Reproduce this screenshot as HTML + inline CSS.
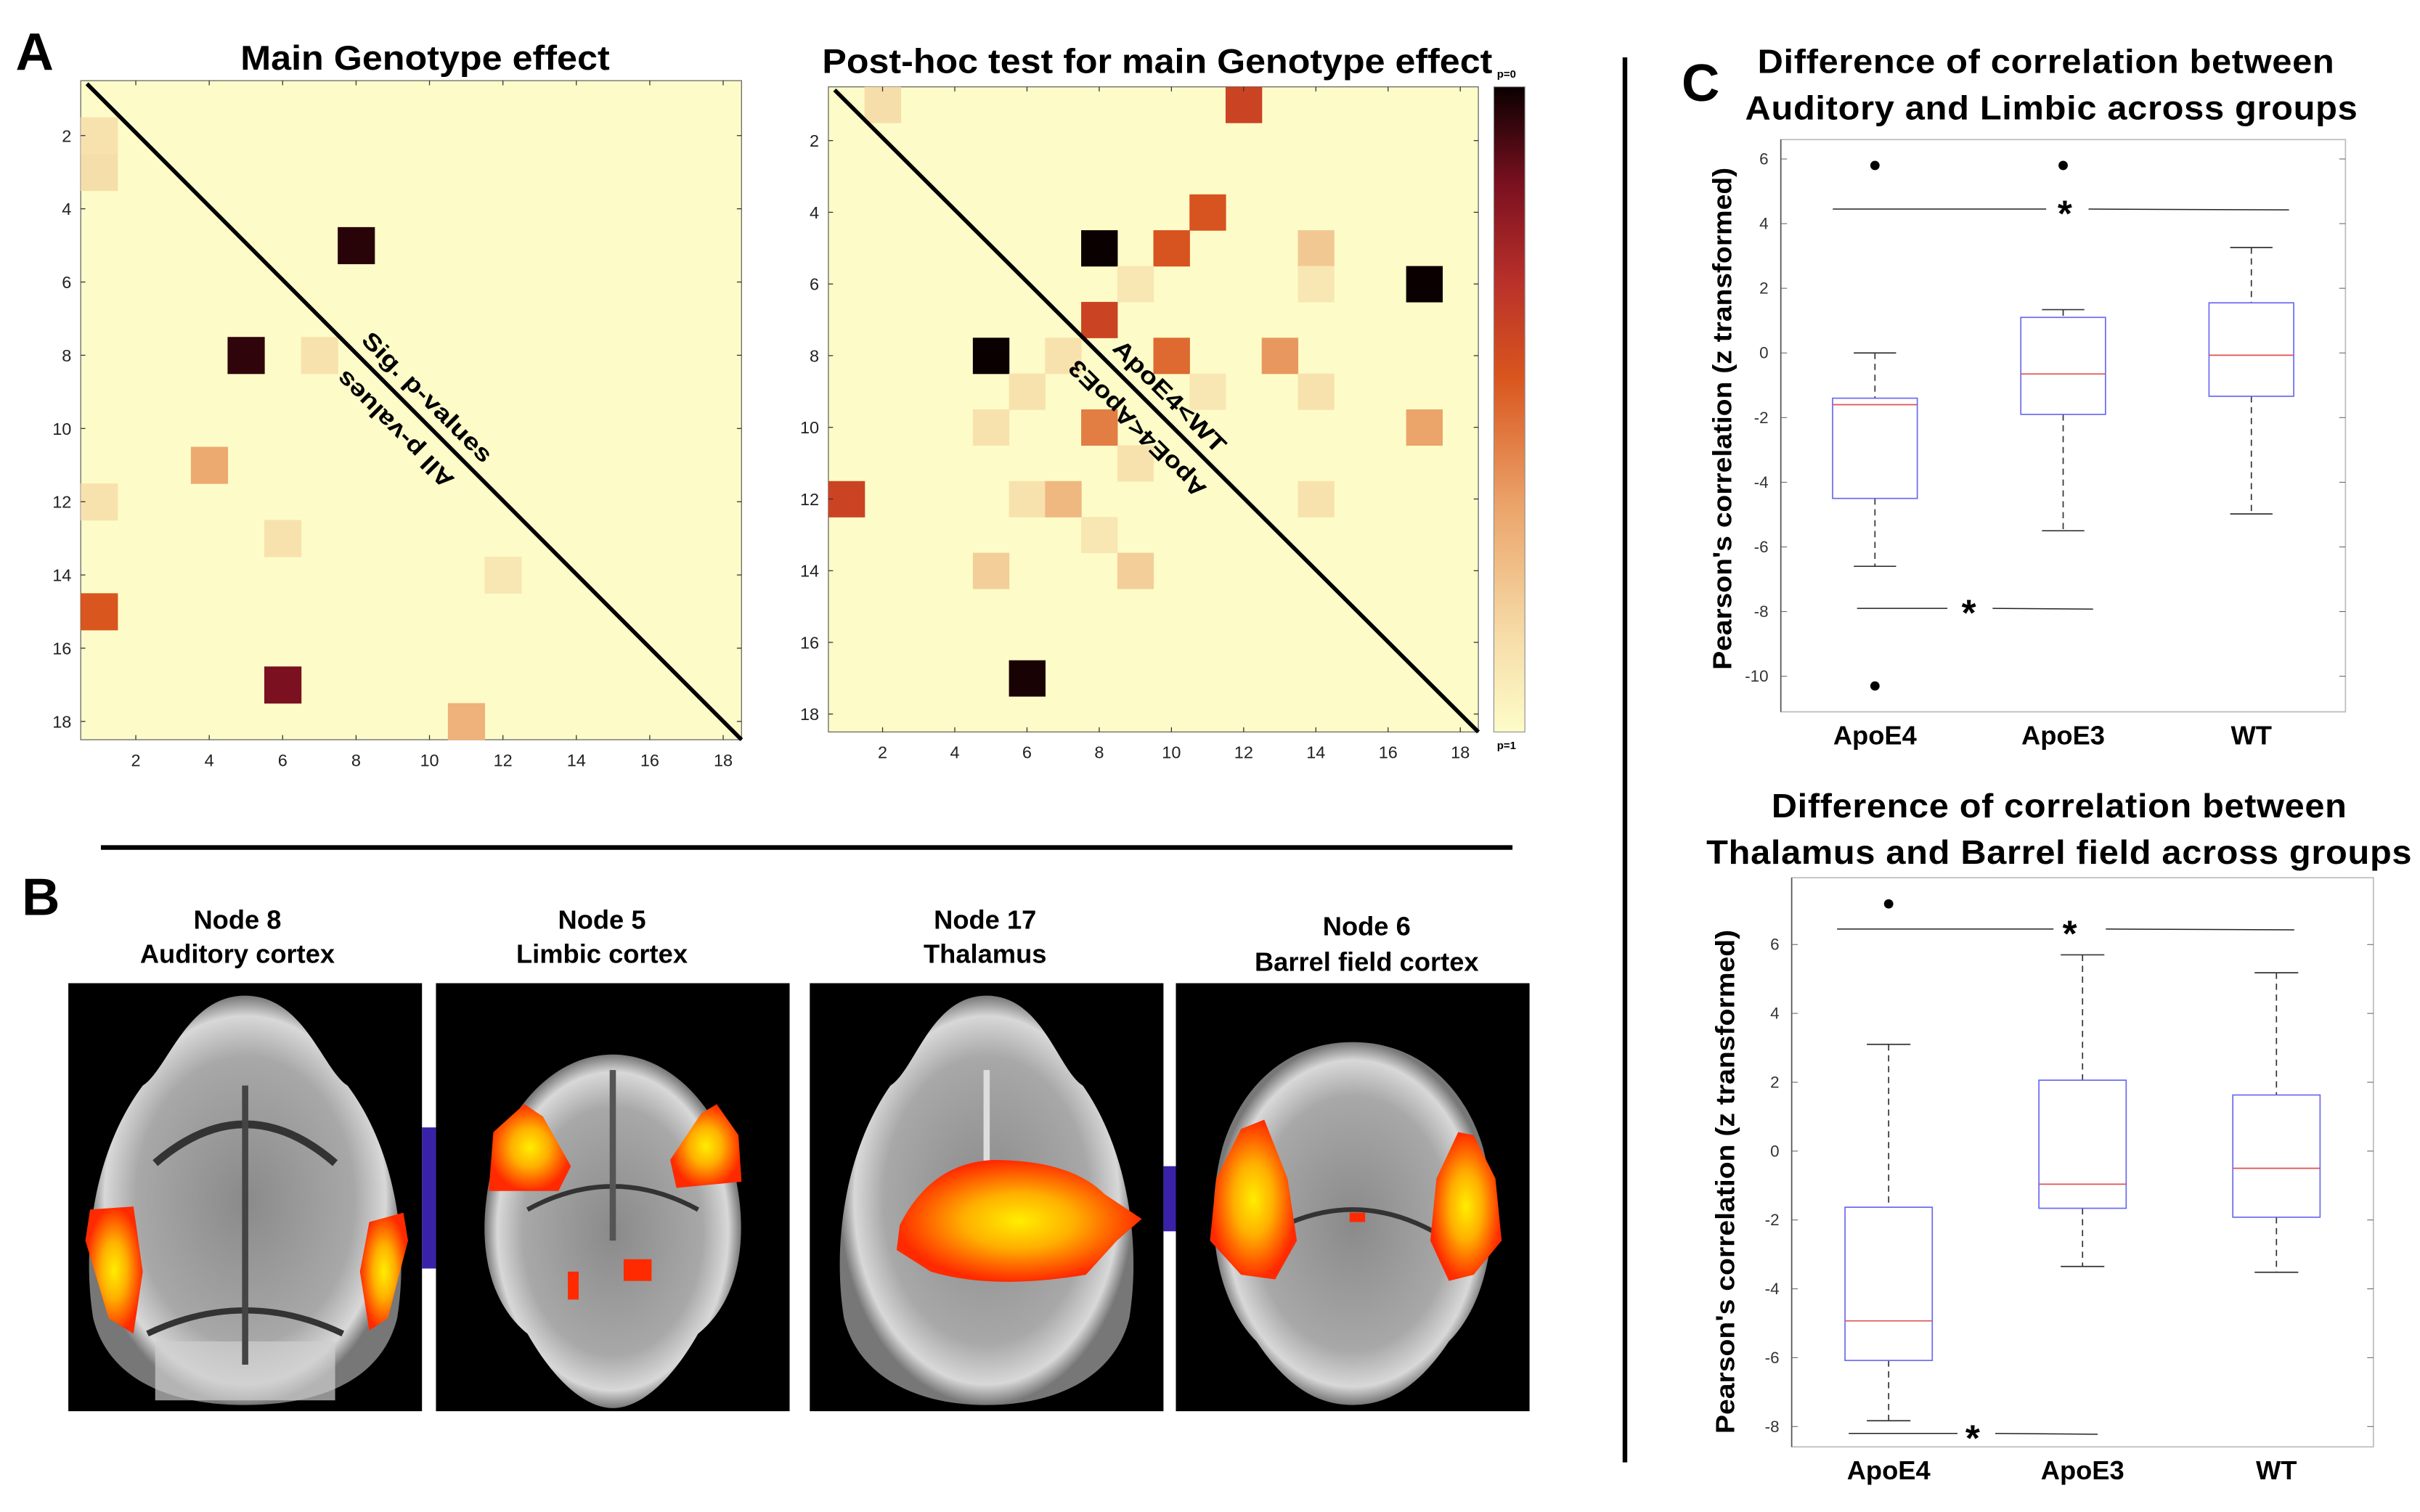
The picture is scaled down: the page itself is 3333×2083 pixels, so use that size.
<!DOCTYPE html>
<html><head><meta charset="utf-8">
<style>
html,body{margin:0;padding:0;background:#fff;}
svg{display:block;}
text{font-family:"Liberation Sans",sans-serif;}
</style></head>
<body>
<svg id="fig" width="3333" height="2083" viewBox="0 0 1560 975" xmlns="http://www.w3.org/2000/svg">
<defs>
  <linearGradient id="cbar" x1="0" y1="1" x2="0" y2="0">
    <stop offset="0" stop-color="#fdfcc8"/>
    <stop offset="0.15" stop-color="#f6dca8"/>
    <stop offset="0.35" stop-color="#eba46a"/>
    <stop offset="0.55" stop-color="#d9561e"/>
    <stop offset="0.7" stop-color="#b8302a"/>
    <stop offset="0.85" stop-color="#7a1020"/>
    <stop offset="1" stop-color="#0a0000"/>
  </linearGradient>
  <radialGradient id="fire" cx="0.5" cy="0.5" r="0.5">
    <stop offset="0" stop-color="#ffee00"/>
    <stop offset="0.45" stop-color="#ffb000"/>
    <stop offset="0.8" stop-color="#ff5a00"/>
    <stop offset="1" stop-color="#ff2a00"/>
  </radialGradient>
  <radialGradient id="greyb" cx="0.5" cy="0.5" r="0.5">
    <stop offset="0" stop-color="#8a8a8a"/>
    <stop offset="0.7" stop-color="#a8a8a8"/>
    <stop offset="0.9" stop-color="#d8d8d8"/>
    <stop offset="1" stop-color="#777"/>
  </radialGradient>
</defs>

<text x="10" y="45" font-size="34" font-weight="bold">A</text>
<text x="14" y="590" font-size="34" font-weight="bold">B</text>
<text x="1084" y="65" font-size="34" font-weight="bold">C</text>

<text x="155" y="45" font-size="22" font-weight="bold" textLength="238" lengthAdjust="spacingAndGlyphs">Main Genotype effect</text>
<text x="530" y="47" font-size="22" font-weight="bold" textLength="432" lengthAdjust="spacingAndGlyphs">Post-hoc test for main Genotype effect</text>

<g id="hmLeft"></g>
<g id="hmRight"></g>

<rect x="963" y="56" width="20" height="416" fill="url(#cbar)" stroke="#888" stroke-width="0.5"/>
<text x="965" y="50" font-size="7" font-weight="bold">p=0</text>
<text x="965" y="483" font-size="7" font-weight="bold">p=1</text>

<rect x="65" y="545" width="910" height="3" fill="#000"/>
<rect x="1046" y="37" width="3" height="906" fill="#000"/>

<g font-size="17" font-weight="bold" text-anchor="middle">
<text x="153" y="599">Node 8</text>
<text x="153" y="621">Auditory cortex</text>
<text x="388" y="599">Node 5</text>
<text x="388" y="621">Limbic cortex</text>
<text x="635" y="599">Node 17</text>
<text x="635" y="621">Thalamus</text>
<text x="881" y="603">Node 6</text>
<text x="881" y="626">Barrel field cortex</text>
</g>
<rect x="272" y="727" width="9" height="91" fill="#3a22a8"/>
<rect x="750" y="752" width="8" height="42" fill="#3a22a8"/>

<g>
  <rect x="44" y="634" width="228" height="276" fill="#000"/>
  <path d="M158,642 C120,642 108,690 92,700 C62,740 52,800 60,850 C70,890 110,906 158,906 C206,906 246,890 256,850 C264,800 254,740 224,700 C208,690 196,642 158,642Z" fill="url(#greyb)"/>
  <path d="M100,750 Q158,700 216,750" stroke="#333" stroke-width="5" fill="none"/>
  <path d="M95,860 Q158,830 221,860" stroke="#333" stroke-width="4" fill="none"/>
  <rect x="100" y="865" width="116" height="38" fill="#cfcfcf" opacity="0.7"/>
  <rect x="156" y="700" width="4" height="180" fill="#444"/>
  <path d="M86,860 L70,850 L55,800 L58,780 L86,778 L92,820Z" fill="url(#fire)"/>
  <path d="M238,858 L250,850 L263,800 L260,782 L238,788 L232,820Z" fill="url(#fire)"/>
</g>
<g>
  <rect x="281" y="634" width="228" height="276" fill="#000"/>
  <path d="M395,680 C360,680 330,710 318,750 C305,800 315,840 340,860 C360,895 380,908 395,908 C410,908 430,895 450,860 C475,840 485,800 472,750 C460,710 430,680 395,680Z" fill="url(#greyb)"/>
  <path d="M340,780 Q395,750 450,780" stroke="#333" stroke-width="3" fill="none"/>
  <rect x="393" y="690" width="4" height="110" fill="#555"/>
  <path d="M315,768 L318,730 L338,712 L350,720 L368,752 L360,768Z" fill="url(#fire)"/>
  <path d="M478,762 L476,732 L462,712 L452,718 L432,748 L436,766Z" fill="url(#fire)"/>
  <rect x="402" y="812" width="18" height="14" fill="#ff2a00"/>
  <rect x="366" y="820" width="7" height="18" fill="#ff2a00"/>
</g>
<g>
  <rect x="522" y="634" width="228" height="276" fill="#000"/>
  <path d="M636,642 C600,642 590,690 574,700 C546,740 536,800 544,850 C554,890 594,906 636,906 C678,906 718,890 728,850 C736,800 726,740 698,700 C682,690 672,642 636,642Z" fill="url(#greyb)"/>
  <rect x="634" y="690" width="4" height="80" fill="#ddd"/>
  <path d="M580,790 Q600,750 640,748 Q690,748 712,770 L736,786 L720,800 L700,822 Q640,832 600,820 L578,806Z" fill="url(#fire)"/>
</g>
<g>
  <rect x="758" y="634" width="228" height="276" fill="#000"/>
  <path d="M872,672 C830,672 800,700 788,740 C775,790 785,840 810,865 C830,895 850,906 872,906 C894,906 914,895 934,865 C959,840 969,790 956,740 C944,700 914,672 872,672Z" fill="url(#greyb)"/>
  <path d="M810,800 Q872,760 934,800" stroke="#333" stroke-width="3" fill="none"/>
  <path d="M780,800 L784,760 L800,728 L815,722 L830,760 L836,800 L822,825 L800,822Z" fill="url(#fire)"/>
  <path d="M968,800 L964,760 L950,732 L940,730 L926,760 L922,800 L934,826 L950,822Z" fill="url(#fire)"/>
  <rect x="870" y="782" width="10" height="6" fill="#ff2a00"/>
</g>

<g font-size="21.5" font-weight="bold" letter-spacing="0.3">
<text x="1133" y="47" textLength="372" lengthAdjust="spacingAndGlyphs">Difference of correlation between</text>
<text x="1125" y="77" textLength="395" lengthAdjust="spacingAndGlyphs">Auditory and Limbic across groups</text>
<text x="1142" y="527" textLength="371" lengthAdjust="spacingAndGlyphs">Difference of correlation between</text>
<text x="1100" y="557" textLength="455" lengthAdjust="spacingAndGlyphs">Thalamus and Barrel field across groups</text>
</g>
<g id="bpTop"></g>
<g id="bpBot"></g>
</svg>

<script>
const hmTicks = [2,4,6,8,10,12,14,16,18];
const leftRows = [2,3,5,8,8,11,12,13,14,15,17,18];
const leftCols = [1,1,8,5,7,4,1,6,12,1,6,11];
const leftVals = [0.12,0.14,0.96,0.95,0.12,0.33,0.12,0.12,0.1,0.55,0.85,0.3];
const rightRows = [1,1,4,5,5,5,6,6,6,7,8,8,8,8,9,9,9,10,10,10,11,12,12,12,12,13,14,14,17];
const rightCols = [2,12,11,8,10,14,9,14,17,8,5,7,10,13,6,11,14,5,8,17,9,1,6,7,14,8,5,9,6];
const rightVals = [0.14,0.62,0.56,1,0.56,0.22,0.1,0.1,1,0.62,1,0.12,0.5,0.38,0.12,0.1,0.12,0.12,0.45,0.35,0.12,0.62,0.12,0.28,0.12,0.1,0.2,0.2,0.98];

const NS="http://www.w3.org/2000/svg";
function mk(tag, attrs, parent){const e=document.createElementNS(NS,tag);for(const k in attrs)e.setAttribute(k,attrs[k]);parent.appendChild(e);return e;}

const cmapStops=[[0,[253,252,200]],[0.15,[246,220,168]],[0.35,[235,164,106]],[0.55,[217,86,30]],[0.7,[184,48,42]],[0.85,[122,16,32]],[1,[10,0,0]]];
function cmap(v){for(let i=1;i<cmapStops.length;i++){if(v<=cmapStops[i][0]){const a=cmapStops[i-1],b=cmapStops[i];const t=(v-a[0])/(b[0]-a[0]);const c=a[1].map((x,j)=>Math.round(x+(b[1][j]-x)*t));return `rgb(${c[0]},${c[1]},${c[2]})`;}}return 'rgb(10,0,0)';}

function heatmap(gid, x0,y0,x1,y1, rows, cols, vals, labA, labB, lenA, lenB){
  const g=document.getElementById(gid);
  const cw=(x1-x0)/18, ch=(y1-y0)/18;
  const xs=c=>x0+(c-1)*cw, ys=r=>y0+(r-1)*ch;
  const bg=mk('rect',{x:x0,y:y0,width:x1-x0,height:y1-y0,fill:'#fdfcc8',stroke:'#666','stroke-width':0.6},g);
  
  
  for(let i=0;i<rows.length;i++){
    const r=mk('rect',{x:xs(cols[i]),y:ys(rows[i]),width:cw+0.3,height:ch+0.3,fill:cmap(vals[i])},g);
    
    
  }
  hmTicks.forEach(t=>{
    const cx=xs(t)+cw/2, cy=ys(t)+ch/2;
    mk('line',{x1:x0,y1:cy,x2:x0+3,y2:cy,stroke:'#333','stroke-width':0.6},g);
    mk('line',{x1:x1,y1:cy,x2:x1-3,y2:cy,stroke:'#333','stroke-width':0.6},g);
    mk('line',{x1:cx,y1:y1,x2:cx,y2:y1-3,stroke:'#333','stroke-width':0.6},g);
    mk('line',{x1:cx,y1:y0,x2:cx,y2:y0+3,stroke:'#333','stroke-width':0.6},g);
    const ty=mk('text',{x:x0-6,y:cy+4,'font-size':11,'text-anchor':'end',fill:'#222'},g);ty.textContent=t;
    
    
    const tx=mk('text',{x:cx,y:y1+17,'font-size':11,'text-anchor':'middle',fill:'#222'},g);tx.textContent=t;
    
    
  });
  const d=mk('line',{x1:x0+4,y1:y0+2,x2:x1,y2:y1,stroke:'#000','stroke-width':2.6},g);
  
  
  const mx=(x0+x1)/2+4, my=(y0+y1)/2-2;
  const ta=mk('text',{x:0,y:-4,'font-size':15,'font-weight':'bold','text-anchor':'middle',textLength:lenA,lengthAdjust:'spacingAndGlyphs',transform:`translate(${mx},${my}) rotate(45)`},g);ta.textContent=labA;
  
  
  const tb=mk('text',{x:0,y:-4,'font-size':15,'font-weight':'bold','text-anchor':'middle',textLength:lenB,lengthAdjust:'spacingAndGlyphs',transform:`translate(${mx-8},${my+8}) rotate(225)`},g);tb.textContent=labB;
  
  
}
heatmap('hmLeft',52,52,478,477,leftRows,leftCols,leftVals,'Sig. p-values','All p-values',112,100);
heatmap('hmRight',534,56,953,472,rightRows,rightCols,rightVals,'ApoE4<WT','ApoE4<ApoE3',96,118);

const groups = ['ApoE4','ApoE3','WT'];
const topLow   = [-6.6,-5.5,-4.98];
const topQ1    = [-4.5,-1.9,-1.34];
const topMed   = [-1.6,-0.65,-0.07];
const topQ3    = [-1.4,1.1,1.55];
const topHigh  = [0,1.34,3.26];
const topOutG  = [0,0,1];
const topOutV  = [5.8,-10.3,5.8];
const topTicks = [6,4,2,0,-2,-4,-6,-8,-10];
const botLow   = [-7.83,-3.35,-3.52];
const botQ1    = [-6.08,-1.66,-1.92];
const botMed   = [-4.93,-0.96,-0.5];
const botQ3    = [-1.63,2.06,1.63];
const botHigh  = [3.1,5.7,5.18];
const botOutG  = [0];
const botOutV  = [7.18];
const botTicks = [6,4,2,0,-2,-4,-6,-8];

function boxplot(gid, ax, ylim, low,q1,med,q3,high,outG,outV,ticks, sig, ylab){
  const g=document.getElementById(gid);
  const xs=v=>ax.x0+(v-0.5)/3*(ax.x1-ax.x0);
  const ys=v=>ax.y1-(v-ylim[0])/(ylim[1]-ylim[0])*(ax.y1-ax.y0);
  const fr=mk('rect',{x:ax.x0,y:ax.y0,width:ax.x1-ax.x0,height:ax.y1-ax.y0,fill:'#fff',stroke:'#bbb','stroke-width':0.8},g);
  
  
  mk('line',{x1:ax.x0,y1:ax.y0,x2:ax.x0,y2:ax.y1,stroke:'#555','stroke-width':0.8},g);
  ticks.forEach(t=>{
    const y=ys(t);
    mk('line',{x1:ax.x0,y1:y,x2:ax.x0+4,y2:y,stroke:'#666','stroke-width':0.5},g);
    mk('line',{x1:ax.x1,y1:y,x2:ax.x1-4,y2:y,stroke:'#666','stroke-width':0.5},g);
    const tl=mk('text',{x:ax.x0-8,y:y+3.5,'font-size':10.5,'text-anchor':'end',fill:'#333'},g);tl.textContent=t;
    
    
  });
  const bw=0.45/3*(ax.x1-ax.x0);
  groups.forEach((name,i)=>{
    const cx=xs(i+1);
    mk('line',{x1:cx,y1:ys(high[i]),x2:cx,y2:ys(q3[i]),stroke:'#333','stroke-width':0.8,'stroke-dasharray':'4,3'},g);
    mk('line',{x1:cx,y1:ys(q1[i]),x2:cx,y2:ys(low[i]),stroke:'#333','stroke-width':0.8,'stroke-dasharray':'4,3'},g);
    mk('line',{x1:cx-bw/4,y1:ys(high[i]),x2:cx+bw/4,y2:ys(high[i]),stroke:'#333','stroke-width':0.8},g);
    mk('line',{x1:cx-bw/4,y1:ys(low[i]),x2:cx+bw/4,y2:ys(low[i]),stroke:'#333','stroke-width':0.8},g);
    const b=mk('rect',{x:cx-bw/2,y:ys(q3[i]),width:bw,height:ys(q1[i])-ys(q3[i]),fill:'none',stroke:'#6a6af0','stroke-width':0.8},g);
    
    
    const m=mk('line',{x1:cx-bw/2,y1:ys(med[i]),x2:cx+bw/2,y2:ys(med[i]),stroke:'#e05050','stroke-width':0.8},g);
    
    
    const cl=mk('text',{x:cx,y:ax.y1+21,'font-size':17,'font-weight':'bold','text-anchor':'middle'},g);cl.textContent=name;
    
    
  });
  outG.forEach((gi,i)=>{
    const o=mk('circle',{cx:xs(gi+1),cy:ys(outV[i]),r:3,fill:'#000'},g);
    
    
  });
  sig.forEach(s=>{
    const W=ax.x1-ax.x0, y=ys(s.v);
    mk('line',{x1:ax.x0+s.a*W,y1:y,x2:ax.x0+s.g1*W,y2:y,stroke:'#222','stroke-width':0.7},g);
    mk('line',{x1:ax.x0+s.g2*W,y1:y,x2:ax.x0+s.b*W,y2:y+0.5,stroke:'#222','stroke-width':0.7},g);
    const st=mk('text',{x:ax.x0+s.s*W,y:y+11,'font-size':24,'font-weight':'bold','text-anchor':'middle'},g);st.textContent='*';
    
    
  });
  const yl=mk('text',{x:0,y:0,'font-size':17,'font-weight':'bold','text-anchor':'middle',textLength:ylab.len,lengthAdjust:'spacingAndGlyphs',transform:`translate(${ylab.x},${ylab.y}) rotate(-90)`},g);
  yl.textContent="Pearson's correlation (z transformed)";
  
  
}
boxplot('bpTop',{x0:1148,x1:1512,y0:90,y1:459},[-11.1,6.6],topLow,topQ1,topMed,topQ3,topHigh,topOutG,topOutV,topTicks,
  [{v:4.45,a:0.092,b:0.90,g1:0.47,g2:0.545,s:0.503},{v:-7.9,a:0.135,b:0.553,g1:0.295,g2:0.375,s:0.333}],
  {x:1116,y:270,len:324});
boxplot('bpBot',{x0:1155,x1:1530,y0:566,y1:933},[-8.59,7.94],botLow,botQ1,botMed,botQ3,botHigh,botOutG,botOutV,botTicks,
  [{v:6.45,a:0.078,b:0.864,g1:0.45,g2:0.54,s:0.478},{v:-8.2,a:0.098,b:0.526,g1:0.285,g2:0.35,s:0.311}],
  {x:1118,y:762,len:325});
</script>
</body></html>
